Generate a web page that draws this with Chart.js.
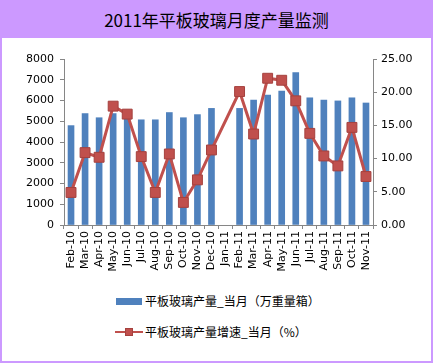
<!DOCTYPE html>
<html lang="zh-CN">
<head>
    <meta charset="UTF-8">
    <title>2011年平板玻璃月度产量监测</title>
    <script src="https://cdn.jsdelivr.net/npm/chart.js"></script>
    <style>
        body {
            margin: 0;
            width: 433px;
            height: 363px;
            overflow: hidden;
            font-family: "Noto Sans CJK SC", "DejaVu Sans", sans-serif;
        }
        .frame {
            position: absolute;
            left: 0; top: 0;
            width: 433px; height: 363px;
            background-color: #cc99ff;
        }
        .title {
            position: absolute;
            left: 0; top: 0;
            width: 433px; height: 38px;
            line-height: 40px;
            text-align: center;
            font-size: 17px;
            color: #000;
        }
        .panel {
            position: absolute;
            left: 2px; top: 38px;
            width: 429px; height: 323px;
            background-color: #ffffff;
        }
        #chart-box {
            position: absolute;
            left: 2px; top: 38px;
            width: 429px; height: 250px;
        }
        .legend-row {
            position: absolute;
            left: 115px;
            height: 16px;
            font-size: 12px;
            line-height: 16px;
            color: #000;
            white-space: nowrap;
        }
        .legend-row .sw {
            position: absolute;
            left: 0;
        }
        .legend-row span.txt {
            position: absolute;
            left: 30px;
            top: 0;
        }
    </style>
</head>
<body>
    <div class="frame"></div>
    <div class="title">2011年平板玻璃月度产量监测</div>
    <div class="panel"></div>
    <div id="chart-box"><canvas id="glass-chart" width="429" height="250"></canvas></div>

    <div class="legend-row" style="top:293px;">
        <div class="sw" style="left:1px; top:5px; width:26px; height:7px; background:#4f81bd;"></div>
        <span class="txt">平板玻璃产量_当月（万重量箱）</span>
    </div>
    <div class="legend-row" style="top:324px;">
        <div class="sw" style="left:0; top:7px; width:28px; height:2px; background:#c0504d;"></div>
        <div class="sw" style="left:10px; top:4px; width:8px; height:8px; background:#c0504d; box-sizing:border-box; border:1px solid #a5413e;"></div>
        <span class="txt">平板玻璃产量增速_当月（%）</span>
    </div>

    <script>
        // 月份
        const months = ['Feb-10', 'Mar-10', 'Apr-10', 'May-10', 'Jun-10', 'Jul-10', 'Aug-10', 'Sep-10',
            'Oct-10', 'Nov-10', 'Dec-10', 'Jan-11', 'Feb-11', 'Mar-11', 'Apr-11', 'May-11',
            'Jun-11', 'Jul-11', 'Aug-11', 'Sep-11', 'Oct-11', 'Nov-11'];

        // 当月产量（万重量箱），Jan-11 无数据
        const output = [4790, 5370, 5170, 5370, 5150, 5070, 5070, 5420,
            5170, 5320, 5620, null, 5620, 6020, 6260, 6460,
            7350, 6130, 6020, 5980, 6130, 5880];

        // 当月增速（%）
        const growth = [4.9, 10.9, 10.2, 17.9, 16.7, 10.3, 4.9, 10.7,
            3.4, 6.8, 11.3, null, 20.1, 13.7, 22.1, 21.8,
            18.7, 13.8, 10.4, 8.9, 14.7, 7.3];

        const leftTicks = { min: 0, max: 8000, step: 1000 };
        const rightTicks = { min: 0, max: 25, step: 5 };

        const tickFont = { family: "'DejaVu Sans', sans-serif", size: 11 };
        const axisColor = '#868686';

        new Chart(document.getElementById('glass-chart').getContext('2d'), {
            data: {
                labels: months,
                datasets: [{
                    type: 'line',
                    label: '平板玻璃产量增速_当月（%）',
                    data: growth,
                    yAxisID: 'y1',
                    borderColor: '#c0504d',
                    borderWidth: 3,
                    backgroundColor: '#c0504d',
                    pointStyle: 'rect',
                    pointRadius: 7,
                    pointBorderColor: '#a5413e',
                    pointBorderWidth: 1,
                    pointBackgroundColor: '#c0504d',
                    spanGaps: true,
                    tension: 0,
                    order: 1
                }, {
                    type: 'bar',
                    label: '平板玻璃产量_当月（万重量箱）',
                    data: output,
                    yAxisID: 'y',
                    backgroundColor: '#4f81bd',
                    barThickness: 6,
                    order: 2
                }]
            },
            options: {
                responsive: false,
                animation: false,
                layout: { padding: { top: 21, left: 0, right: 0, bottom: 0 } },
                plugins: {
                    legend: { display: false },
                    tooltip: { enabled: false }
                },
                scales: {
                    x: {
                        offset: true,
                        grid: {
                            display: true,
                            drawOnChartArea: false,
                            offset: true,
                            color: axisColor,
                            tickLength: 4
                        },
                        border: { color: axisColor },
                        ticks: {
                            autoSkip: false,
                            minRotation: 90,
                            maxRotation: 90,
                            color: '#000',
                            font: tickFont,
                            padding: 2
                        },
                        afterFit: function (scale) { scale.height = 63; }
                    },
                    y: {
                        position: 'left',
                        min: leftTicks.min,
                        max: leftTicks.max,
                        grid: {
                            display: true,
                            drawOnChartArea: false,
                            color: axisColor,
                            tickLength: 4
                        },
                        border: { color: axisColor },
                        ticks: {
                            stepSize: leftTicks.step,
                            color: '#000',
                            font: tickFont,
                            padding: 6,
                            callback: function (v) { return String(v); }
                        },
                        afterFit: function (scale) { scale.width = 62; }
                    },
                    y1: {
                        position: 'right',
                        min: rightTicks.min,
                        max: rightTicks.max,
                        grid: {
                            display: true,
                            drawOnChartArea: false,
                            color: axisColor,
                            tickLength: 4
                        },
                        border: { color: axisColor },
                        ticks: {
                            stepSize: rightTicks.step,
                            color: '#000',
                            font: tickFont,
                            padding: 4,
                            callback: function (v) { return v.toFixed(2); }
                        },
                        afterFit: function (scale) { scale.width = 58; }
                    }
                }
            }
        });
    </script>
</body>
</html>
